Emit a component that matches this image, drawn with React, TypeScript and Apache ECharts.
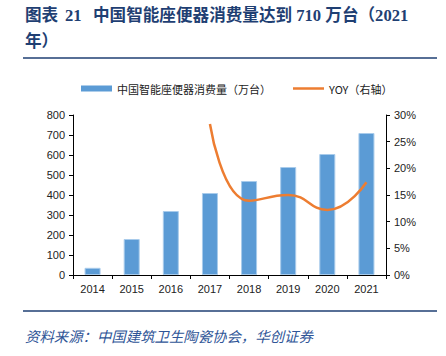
import React, { useEffect, useRef } from "react";
import * as echarts from "echarts";

const years = ["2014", "2015", "2016", "2017", "2018", "2019", "2020", "2021"];
const consumption = [36, 180, 320, 410, 470, 540, 605, 710];
const yoy = [null, null, null, 28.3, 13.9, 15.0, 12.2, 17.4];

const titleLabel = "图表";
const titleNumber = "21";
const titleMain = "中国智能座便器消费量达到 710 万台（2021";
const titleLine2 = "年）";
const sourceText = "资料来源：中国建筑卫生陶瓷协会，华创证券";

export default function App() {
  const ref = useRef<HTMLDivElement>(null);
  useEffect(() => {
    const chart = echarts.init(ref.current!, null, { renderer: "svg" });
    const titleColor = "#1F3F73";
    const tStyle = { fill: titleColor, fontSize: 16.6, fontWeight: "bold", fontFamily: "Liberation Serif, Noto Sans CJK SC" };
    const axisLabel = { color: "#222", fontSize: 11, fontFamily: "Liberation Sans, Arial" };
    chart.setOption({
      animation: false,
      backgroundColor: "#fff",
      graphic: [
        { type: "text", left: 25, top: 7, style: { ...tStyle, text: titleLabel } },
        { type: "text", left: 65, top: 7, style: { ...tStyle, text: titleNumber } },
        { type: "text", left: 93, top: 7, style: { ...tStyle, text: titleMain } },
        { type: "text", left: 25, top: 33, style: { ...tStyle, text: titleLine2 } },
        { type: "line", shape: { x1: 23, y1: 58, x2: 437, y2: 58 }, style: { stroke: titleColor, lineWidth: 1.5 } },
        { type: "line", shape: { x1: 23, y1: 311, x2: 437, y2: 311 }, style: { stroke: titleColor, lineWidth: 1.5 } },
        {
          type: "text", left: 25, top: 328,
          style: { text: sourceText, fill: "#2F5597", fontSize: 14.4, fontStyle: "italic", fontFamily: "Noto Sans CJK SC" },
        },
      ],
      legend: {
        left: 76, top: 78, itemGap: 22,
        textStyle: { fontSize: 11, color: "#222", fontFamily: "Noto Sans CJK SC" },
        data: [
          { name: "中国智能座便器消费量（万台）", icon: "rect", itemStyle: { borderWidth: 0 } },
          { name: "YOY（右轴）", icon: "path://M0,0 L31,0 L31,2.5 L0,2.5 Z" },
        ],
        itemWidth: 31, itemHeight: 6,
      },
      grid: { left: 73, right: 60, top: 115, bottom: 81 },
      xAxis: {
        type: "category", data: years,
        axisLine: { lineStyle: { color: "#000" } },
        axisTick: { show: true, alignWithLabel: false, length: 4, lineStyle: { color: "#000" } },
        axisLabel: { ...axisLabel, margin: 8 },
      },
      yAxis: [
        {
          type: "value", min: 0, max: 800, interval: 100,
          axisLine: { show: true, lineStyle: { color: "#000" } },
          axisTick: { show: true, length: 4, lineStyle: { color: "#000" } },
          splitLine: { show: false },
          axisLabel: { ...axisLabel, margin: 8 },
        },
        {
          type: "value", min: 0, max: 30, interval: 5,
          axisLine: { show: true, lineStyle: { color: "#000" } },
          axisTick: { show: true, length: 4, lineStyle: { color: "#000" } },
          splitLine: { show: false },
          axisLabel: { ...axisLabel, margin: 8, formatter: "{value}%" },
        },
      ],
      series: [
        {
          name: "中国智能座便器消费量（万台）", type: "bar", data: consumption,
          barWidth: 16,
          itemStyle: { color: "#5B9BD5", borderColor: "#A8CBEB", borderWidth: 1 },
        },
        {
          name: "YOY（右轴）", type: "line", yAxisIndex: 1, data: yoy,
          smooth: true, symbol: "none",
          lineStyle: { color: "#ED7D31", width: 2.5 },
          itemStyle: { color: "#ED7D31" },
        },
      ],
    });
    return () => chart.dispose();
  }, []);
  return <div ref={ref} style={{ width: 446, height: 356, position: "absolute", left: 0, top: 0 }} />;
}
